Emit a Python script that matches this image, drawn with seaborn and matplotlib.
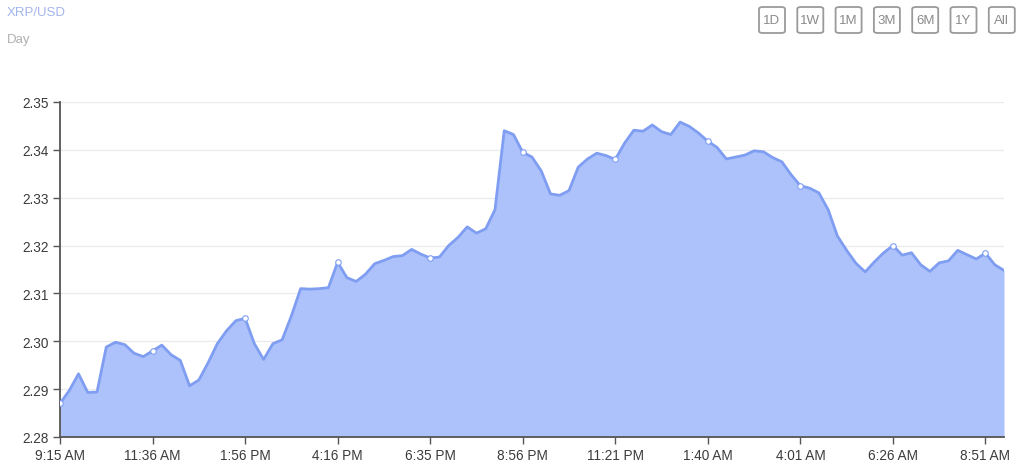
import matplotlib
matplotlib.use("Agg")
import matplotlib.pyplot as plt
from matplotlib.patches import FancyBboxPatch
import seaborn as sns
import pandas as pd
import numpy as np

# =========================================================
# DATA (XRP/USD, one day)
# =========================================================

prices = [
    2.2870, 2.2897, 2.2932, 2.2893, 2.2894, 2.2988, 2.2998, 2.2993, 2.2975, 2.2968,
    2.2980, 2.2992, 2.2972, 2.2960, 2.2907, 2.2919, 2.2955, 2.2995, 2.3022, 2.3043,
    2.3048, 2.2995, 2.2962, 2.2995, 2.3003, 2.3053, 2.3110, 2.3109, 2.3110, 2.3112,
    2.3165, 2.3133, 2.3125, 2.3140, 2.3162, 2.3169, 2.3177, 2.3179, 2.3192, 2.3182,
    2.3174, 2.3176, 2.3200, 2.3217, 2.3239, 2.3226, 2.3235, 2.3275, 2.3440, 2.3432,
    2.3395, 2.3385, 2.3356, 2.3308, 2.3305, 2.3315, 2.3364, 2.3381, 2.3393, 2.3388,
    2.3380, 2.3414, 2.3441, 2.3439, 2.3452, 2.3438, 2.3432, 2.3458, 2.3449, 2.3435,
    2.3418, 2.3405, 2.3381, 2.3385, 2.3389, 2.3398, 2.3396, 2.3384, 2.3375, 2.3348,
    2.3325, 2.3320, 2.3310, 2.3275, 2.3220, 2.3190, 2.3163, 2.3145, 2.3166, 2.3185,
    2.3200, 2.3180, 2.3185, 2.3160, 2.3146, 2.3164, 2.3168, 2.3190, 2.3181, 2.3172,
    2.3184, 2.3160, 2.3148,
]

time_labels = ['9:15 AM', '11:36 AM', '1:56 PM', '4:16 PM', '6:35 PM', '8:56 PM',
               '11:21 PM', '1:40 AM', '4:01 AM', '6:26 AM', '8:51 AM']
y_ticks = [2.28, 2.29, 2.30, 2.31, 2.32, 2.33, 2.34, 2.35]
ranges = ['1D', '1W', '1M', '3M', '6M', '1Y', 'All']

df = pd.DataFrame({'step': np.arange(len(prices)), 'price': prices})
tick_step = 10

# =========================================================
# PLOT
# =========================================================

sns.set_style("white")
plt.rcParams['font.family'] = ['Liberation Sans', 'DejaVu Sans']

line_color = '#7f9ef2'
fill_color = '#adc2fb'

W, H = 1024, 477
fig = plt.figure(figsize=(W / 100, H / 100), dpi=100)
ax = fig.add_axes([60 / W, 39 / H, 944 / W, 335 / H])

ax.fill_between(df['step'], df['price'], 2.28, color=fill_color, lw=0, zorder=2)
sns.lineplot(data=df, x='step', y='price', ax=ax, color=line_color, lw=2, zorder=3)
ax.plot(df['step'][::tick_step], df['price'][::tick_step], ls='none', marker='o',
        ms=4, mfc='white', mec=line_color, mew=0.8, zorder=4)

ax.set_xlim(0, len(prices) - 1)
ax.set_ylim(2.28, 2.35)
ax.set_xticks(np.arange(len(time_labels)) * tick_step)
ax.set_xticklabels(time_labels)
ax.set_yticks(y_ticks)
ax.set_yticklabels([f'{v:.2f}' for v in y_ticks])
ax.set_xlabel('')
ax.set_ylabel('')

ax.yaxis.grid(True, color='#ebebeb', lw=1, zorder=0)
ax.set_axisbelow(True)
for side in ['top', 'right']:
    ax.spines[side].set_visible(False)
for side in ['left', 'bottom']:
    ax.spines[side].set_color('#555555')
    ax.spines[side].set_linewidth(1.3)
ax.tick_params(axis='both', direction='out', length=5, width=1, color='#555555',
               labelsize=9.8, labelcolor='#3c3c3c', pad=3)
ax.tick_params(axis='both', which='both', bottom=True, left=True)

# header texts
fig.text(7 / W, 1 - 13 / H, 'XRP/USD', color='#a3b4ee', fontsize=9.5, va='center')
fig.text(7 / W, 1 - 40 / H, 'Day', color='#b0b0b0', fontsize=9.5, va='center')

# range buttons (fixed-size boxes)
bw, bh = 26, 26
for k, lab in enumerate(ranges):
    cx = 772 + k * 38.3
    cy = H - 21
    box = FancyBboxPatch(((cx - bw / 2) / W, (cy - bh / 2) / H), bw / W, bh / H,
                         boxstyle='round,pad=0,rounding_size=0.004',
                         transform=fig.transFigure, fc='white', ec='#9a9a9a', lw=1.3)
    fig.patches.append(box)
    fig.text(cx / W, cy / H, lab, color='#8a8a8a', fontsize=9.5,
             ha='center', va='center')

plt.savefig("out.png", dpi=100)
plt.close()
